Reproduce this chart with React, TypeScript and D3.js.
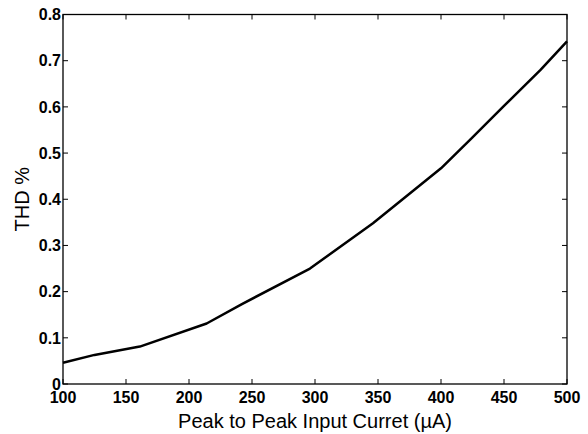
import React from "react";
import * as d3 from "d3";

const currentUA = [100, 125, 161, 214, 242, 296, 346, 400, 425, 450, 479, 500];
const thdPercent = [0.046, 0.063, 0.081, 0.131, 0.173, 0.25, 0.348, 0.467, 0.534, 0.602, 0.68, 0.742];
const xTicks = [100, 150, 200, 250, 300, 350, 400, 450, 500];
const yTicks = [0, 0.1, 0.2, 0.3, 0.4, 0.5, 0.6, 0.7, 0.8];
const xLabel = "Peak to Peak Input Curret (\u00B5A)";
const yLabel = "THD %";

const W = 588, H = 434;
const L = 63, R = 567, T = 14.5, B = 384;

export default function App() {
  const x = d3.scaleLinear().domain([100, 500]).range([L, R]);
  const y = d3.scaleLinear().domain([0, 0.8]).range([B, T]);
  const line = d3
    .line<number>()
    .x((_, i) => x(currentUA[i]))
    .y((d) => y(d));
  const font = "'Liberation Sans', Arial, Helvetica, sans-serif";
  const tl = 5;
  return (
    <svg width={W} height={H} style={{ position: "absolute", left: 0, top: 0, background: "#fff" }} fontFamily={font}>
      <rect x={0} y={0} width={W} height={H} fill="#fff" />
      {/* ticks */}
      {xTicks.map((t) => (
        <g key={"x" + t}>
          <line x1={x(t)} x2={x(t)} y1={B} y2={B - tl} stroke="#000" strokeWidth={1} />
          <line x1={x(t)} x2={x(t)} y1={T} y2={T + tl} stroke="#000" strokeWidth={1} />
          <text x={x(t)} y={403} textAnchor="middle" fontSize={16} fontWeight="bold" fill="#000">
            {t}
          </text>
        </g>
      ))}
      {yTicks.map((t) => (
        <g key={"y" + t}>
          <line x1={L} x2={L + tl} y1={y(t)} y2={y(t)} stroke="#000" strokeWidth={1} />
          <line x1={R} x2={R - tl} y1={y(t)} y2={y(t)} stroke="#000" strokeWidth={1} />
          <text x={L - 2} y={y(t)} dy="0.36em" textAnchor="end" fontSize={16} fontWeight="bold" fill="#000">
            {t === 0 ? "0" : d3.format(".1f")(t)}
          </text>
        </g>
      ))}
      <rect x={L} y={T} width={R - L} height={B - T} fill="none" stroke="#000" strokeWidth={1.3} />
      <path d={line(thdPercent) || ""} fill="none" stroke="#000" strokeWidth={2.5} strokeLinejoin="round" />
      <text x={(L + R) / 2} y={427.5} textAnchor="middle" fontSize={20} fill="#000">
        {xLabel}
      </text>
      <text transform={`translate(29,${(T + B) / 2}) rotate(-90)`} textAnchor="middle" fontSize={20} fill="#000">
        {yLabel}
      </text>
    </svg>
  );
}
